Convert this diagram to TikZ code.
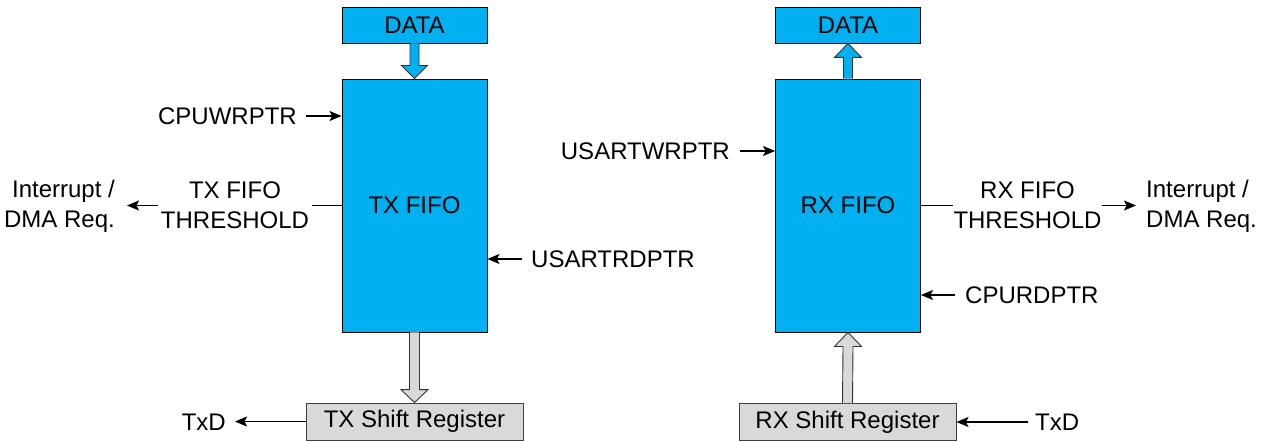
\documentclass[tikz,border=0pt]{standalone}
\usepackage{fontspec}
\setmainfont{Liberation Sans}
\usetikzlibrary{calc,arrows.meta}
\definecolor{fifoblue}{HTML}{00B0F0}
\definecolor{srgray}{HTML}{D9D9D9}
\begin{document}
\begin{tikzpicture}[x=1pt,y=-1pt,
  every node/.style={font=\fontsize{24}{30}\selectfont},
  blk/.style={draw=black,line width=0.9pt,fill=fifoblue,inner sep=0pt,minimum width=145pt},
  srbox/.style={draw=black!75,line width=0.9pt,fill=srgray,inner sep=0pt,minimum width=217pt,minimum height=37pt},
  lbl/.style={inner sep=0pt},
  sig/.style={line width=1.1pt,-{Stealth[length=12pt,width=10pt,inset=2.5pt]}},
  plainline/.style={line width=1.1pt},
  barrow/.style={draw=black!80,line width=0.9pt,line join=miter}
]
\useasboundingbox (0,0) rectangle (1265,441);

% boxes
\node[blk,minimum height=36pt] (txdata) at (414.5,25) {DATA};
\node[blk,minimum height=253pt] (txfifo) at (414.5,205.5) {TX FIFO};
\node[srbox] (txsr) at (414.5,421.5) {TX Shift Register};
\node[blk,minimum height=36pt] (rxdata) at (848,25) {DATA};
\node[blk,minimum height=253pt] (rxfifo) at (848,205.5) {RX FIFO};
\node[srbox] (rxsr) at (847.5,422) {RX Shift Register};

% block arrows
\draw[barrow,fill=fifoblue] ($(txdata.south)+(-4.5,0)$) -- ($(txfifo.north)+(-4.5,-13)$) -- ($(txfifo.north)+(-13,-13)$) -- (txfifo.north) -- ($(txfifo.north)+(13,-13)$) -- ($(txfifo.north)+(4.5,-13)$) -- ($(txdata.south)+(4.5,0)$);
\draw[barrow,fill=srgray] ($(txfifo.south)+(-5,0)$) -- ($(txsr.north)+(-5,-13)$) -- ($(txsr.north)+(-13.5,-13)$) -- (txsr.north) -- ($(txsr.north)+(13.5,-13)$) -- ($(txsr.north)+(5,-13)$) -- ($(txfifo.south)+(5,0)$);
\draw[barrow,fill=fifoblue] ($(rxfifo.north)+(-4.5,0)$) -- ($(rxdata.south)+(-4.5,14)$) -- ($(rxdata.south)+(-13.5,14)$) -- (rxdata.south) -- ($(rxdata.south)+(13.5,14)$) -- ($(rxdata.south)+(4.5,14)$) -- ($(rxfifo.north)+(4.5,0)$);
\draw[barrow,fill=srgray] ($(rxsr.north)+(-5,0)$) -- ($(rxfifo.south)+(-5,14)$) -- ($(rxfifo.south)+(-13.5,14)$) -- (rxfifo.south) -- ($(rxfifo.south)+(13.5,14)$) -- ($(rxfifo.south)+(5,14)$) -- ($(rxsr.north)+(5,0)$);

% labels
\node[lbl,anchor=east] (cpuwr) at (297,116) {CPUWRPTR};
\node[lbl,anchor=west] (usartrd) at (531,259) {USARTRDPTR};
\node[lbl,align=center] (txthr) at (235,205) {TX FIFO\\THRESHOLD};
\node[lbl,align=right,anchor=east] (intl) at (115,206) {Interrupt /\\DMA Req.};
\node[lbl,anchor=east] (txdl) at (226,422) {TxD};

\node[lbl,anchor=east] (usartwr) at (730,151) {USARTWRPTR};
\node[lbl,anchor=west] (cpurd) at (965,295) {CPURDPTR};
\node[lbl,align=center] (rxthr) at (1027.5,205) {RX FIFO\\THRESHOLD};
\node[lbl,align=left,anchor=west] (intr) at (1146,206) {Interrupt /\\DMA Req.};
\node[lbl,anchor=west] (txdr) at (1035,422) {TxD};

% signal connectors
\draw[sig,shorten <=9pt] (cpuwr.east) -- (cpuwr.east -| txfifo.west);
\draw[sig,shorten <=9pt] (usartrd.west) -- (usartrd.west -| txfifo.east);
\draw[plainline,shorten >=3pt] (txfifo.west) -- (txfifo.west -| txthr.east);
\draw[sig,shorten <=3pt,shorten >=12pt] (txfifo.west -| txthr.west) -- (txfifo.west -| intl.east);
\draw[sig,shorten >=9pt] (txsr.west) -- (txsr.west -| txdl.east);

\draw[sig,shorten <=10pt] (usartwr.east) -- (usartwr.east -| rxfifo.west);
\draw[sig,shorten <=10pt] (cpurd.west) -- (cpurd.west -| rxfifo.east);
\draw[plainline] (rxfifo.east) -- (rxfifo.east -| rxthr.west);
\draw[sig,shorten >=10pt] (rxfifo.east -| rxthr.east) -- (rxfifo.east -| intr.west);
\draw[sig,shorten <=7pt] (rxsr.east -| txdr.west) -- (rxsr.east);
\end{tikzpicture}
\end{document}
